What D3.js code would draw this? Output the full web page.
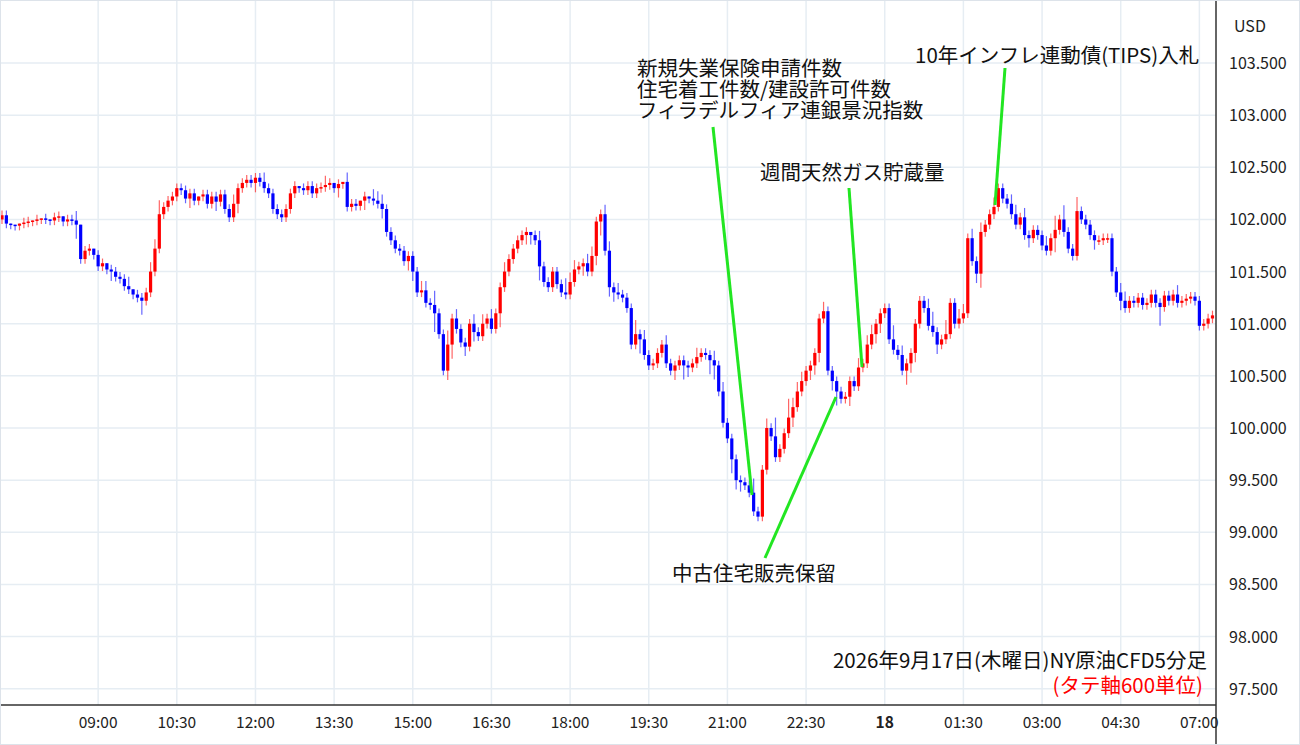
<!DOCTYPE html>
<html><head><meta charset="utf-8">
<script src="https://cdn.jsdelivr.net/npm/d3@7"></script>
<style>body{margin:0;background:#fff;font-family:"Noto Sans CJK JP","Noto Sans",sans-serif}</style>
</head><body><div id="chart"></div>
<script>
// closes of each 5-min candle, from 07:10
const closes = [
  102.04,101.96,101.95,101.94,101.96,101.97,101.98,101.99,102.00,102.01,
  102.00,101.99,102.02,102.03,101.98,102.00,101.99,101.95,101.62,101.70,
  101.72,101.66,101.55,101.58,101.52,101.50,101.45,101.43,101.36,101.33,
  101.28,101.25,101.22,101.30,101.50,101.72,102.05,102.12,102.18,102.22,
  102.30,102.28,102.20,102.25,102.18,102.22,102.24,102.15,102.22,102.17,
  102.24,102.10,102.02,102.15,102.30,102.35,102.38,102.35,102.40,102.36,
  102.30,102.25,102.10,102.05,102.02,102.10,102.25,102.32,102.30,102.28,
  102.32,102.25,102.30,102.31,102.33,102.35,102.30,102.34,102.36,102.12,
  102.15,102.13,102.18,102.22,102.20,102.18,102.15,102.10,101.88,101.80,
  101.72,101.70,101.60,101.65,101.50,101.30,101.32,101.20,101.18,101.10,
  100.90,100.55,100.80,101.05,100.95,100.82,100.78,101.00,100.92,100.88,
  101.00,101.05,100.95,101.10,101.35,101.50,101.62,101.72,101.80,101.85,
  101.88,101.85,101.80,101.55,101.40,101.35,101.50,101.38,101.30,101.28,
  101.40,101.52,101.55,101.58,101.50,101.65,101.98,102.05,101.70,101.35,
  101.30,101.28,101.25,101.15,100.80,100.90,100.85,100.70,100.60,100.62,
  100.72,100.80,100.62,100.55,100.60,100.65,100.60,100.58,100.62,100.68,
  100.72,100.70,100.65,100.60,100.35,100.05,99.90,99.70,99.50,99.48,
  99.45,99.38,99.20,99.15,99.60,100.00,99.92,99.72,99.80,99.95,
  100.10,100.20,100.35,100.45,100.55,100.60,100.72,101.05,101.12,100.55,
  100.45,100.35,100.28,100.30,100.45,100.40,100.58,100.62,100.80,100.90,
  101.00,101.10,101.15,100.85,100.75,100.70,100.55,100.62,100.72,101.00,
  101.22,101.15,100.98,100.92,100.80,100.85,100.90,101.20,101.00,101.05,
  101.10,101.82,101.60,101.48,101.88,101.95,102.05,102.12,102.30,102.20,
  102.15,102.05,101.95,102.02,101.85,101.82,101.90,101.85,101.75,101.70,
  101.82,101.90,102.00,101.88,101.72,101.65,102.08,102.00,101.95,101.85,
  101.80,101.80,101.82,101.82,101.50,101.30,101.22,101.15,101.22,101.20,
  101.25,101.18,101.20,101.28,101.20,101.16,101.27,101.22,101.28,101.20,
  101.22,101.24,101.26,101.22,100.98,101.00,101.05,101.08
];
// wick lengths beyond the body, in units of 0.045
const wickUp = "1100011010101101120110110111120111223111111110111111121111112111111101111121010211010222111111112213113121112121211211111012111113221122112212111312111121111112111212111111311214114222111121111111212211113121111123113112212121121112212111121313113111111111221111111111121111111111".split("").map(Number);
const wickDn = "1111111111111111131111111211111131111111111211111211112111211111111111111111121111121112111112211114112311212111113111112213111111111211231221111131111111213211113311132211111111111211122211231121111122111113221111211111111231111111111211111311111111211111211111111411111111111111".split("").map(Number);
const opens = closes.map((c, i) => i === 0 ? 102.00 : closes[i - 1]);

const yTicks = [97.5, 98, 98.5, 99, 99.5, 100, 100.5, 101, 101.5, 102, 102.5, 103, 103.5];
const xLabels = [
  [22, "09:00"], [40, "10:30"], [58, "12:00"], [76, "13:30"], [94, "15:00"],
  [112, "16:30"], [130, "18:00"], [148, "19:30"], [166, "21:00"], [184, "22:30"],
  [202, "18"], [220, "01:30"], [238, "03:00"], [256, "04:30"], [274, "07:00"]
];
const notes = [
  { lines: ["新規失業保険申請件数", "住宅着工件数/建設許可件数", "フィラデルフィア連銀景況指数"], x: 637, y: 76, from: [713, 127], to: [752, 495] },
  { lines: ["週間天然ガス貯蔵量"], x: 760, y: 180, from: [849, 188], to: [862, 367] },
  { lines: ["10年インフレ連動債(TIPS)入札"], x: 915, y: 63, from: [1005, 68], to: [995, 205] },
  { lines: ["中古住宅販売保留"], x: 672, y: 581, from: [765, 558], to: [836, 397] }
];

const W = 1300, H = 745, plotR = 1216, plotB = 705;
const svg = d3.select("#chart").append("svg").attr("width", W).attr("height", H);

const x = d3.scaleLinear().domain([0, 1]).range([2, 6.37]);
const y = d3.scaleLinear().domain([100, 103.5]).range([428, 63]);

// grid
svg.append("g").selectAll("line").data(yTicks).enter().append("line")
  .attr("x1", 0).attr("x2", plotR).attr("y1", d => y(d)).attr("y2", d => y(d))
  .attr("stroke", "#e6edf3").attr("stroke-width", 1.5);
svg.append("g").selectAll("line").data(xLabels).enter().append("line")
  .attr("x1", d => x(d[0])).attr("x2", d => x(d[0])).attr("y1", 0).attr("y2", plotB)
  .attr("stroke", "#e6edf3").attr("stroke-width", 1.5);

// candles
const g = svg.append("g");
closes.forEach((c, i) => {
  const o = opens[i], up = c >= o, col = up ? "#ff0000" : "#0000ff";
  const hi = Math.max(o, c) + wickUp[i] * 0.045, lo = Math.min(o, c) - wickDn[i] * 0.045;
  g.append("line").attr("x1", x(i)).attr("x2", x(i)).attr("y1", y(hi)).attr("y2", y(lo))
    .attr("stroke", col).attr("stroke-opacity", 0.6).attr("stroke-width", 1.2);
  const top = y(Math.max(o, c)), h = Math.max(1.5, Math.abs(y(o) - y(c)));
  g.append("rect").attr("x", x(i) - 1.6).attr("width", 3.2).attr("y", top).attr("height", h).attr("fill", col);
});

// axes
svg.append("line").attr("x1", plotR).attr("x2", plotR).attr("y1", 0).attr("y2", H).attr("stroke", "#333").attr("stroke-width", 1.5);
svg.append("line").attr("x1", 0).attr("x2", plotR).attr("y1", plotB).attr("y2", plotB).attr("stroke", "#333").attr("stroke-width", 1.5);
svg.append("rect").attr("x", 0.5).attr("y", 0.5).attr("width", W - 1).attr("height", H - 1).attr("fill", "none").attr("stroke", "#dde3ea");

svg.append("g").selectAll("text").data(yTicks).enter().append("text")
  .attr("x", 1229).attr("y", d => y(d) + 6).attr("font-size", 16).attr("fill", "#222")
  .text(d => d.toFixed(3));
svg.append("text").attr("x", 1234).attr("y", 32).attr("font-size", 16).attr("fill", "#222").text("USD");
svg.append("g").selectAll("text").data(xLabels).enter().append("text")
  .attr("x", d => x(d[0])).attr("y", 728).attr("text-anchor", "middle").attr("font-size", 15.5)
  .attr("font-weight", d => d[1] === "18" ? "bold" : "normal").attr("fill", "#222").text(d => d[1]);

// annotations
notes.forEach(n => {
  svg.append("line").attr("x1", n.from[0]).attr("y1", n.from[1]).attr("x2", n.to[0]).attr("y2", n.to[1])
    .attr("stroke", "#22e622").attr("stroke-width", 3);
  n.lines.forEach((t, k) => {
    svg.append("text").attr("x", n.x).attr("y", n.y + k * 21).attr("font-size", 20.5).attr("fill", "#111").text(t);
  });
});
svg.append("text").attr("x", 1207).attr("y", 668).attr("text-anchor", "end").attr("font-size", 20.5).attr("fill", "#111")
  .text("2026年9月17日(木曜日)NY原油CFD5分足");
svg.append("text").attr("x", 1203).attr("y", 693).attr("text-anchor", "end").attr("font-size", 20.5).attr("fill", "#ff0000")
  .text("(タテ軸600単位)");
</script></body></html>
